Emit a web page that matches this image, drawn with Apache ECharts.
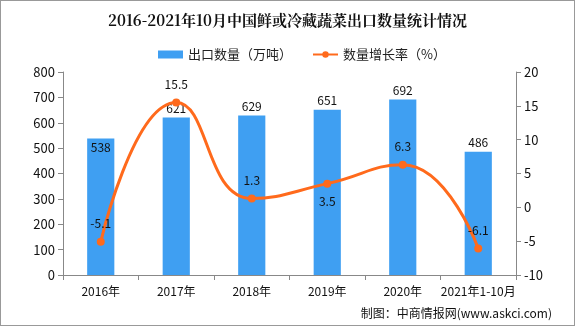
<!DOCTYPE html>
<html><head><meta charset="utf-8">
<script src="https://cdn.jsdelivr.net/npm/echarts@6/dist/echarts.min.js"></script>
<style>html,body{margin:0;padding:0;background:#fff}#c{width:575px;height:326px;box-sizing:border-box;border:1px solid #999}</style>
</head><body><div id="c"></div>
<script>
const categories = ['2016年','2017年','2018年','2019年','2020年','2021年1-10月'];
const exportVolume = [538, 621, 629, 651, 692, 486];
const growthRate = [-5.1, 15.5, 1.3, 3.5, 6.3, -6.1];
const leftTicks = [0, 800, 100];
const rightTicks = [-10, 20, 5];
const growthLabelPos = ['top','top','top','bottom','top','top'];
const barLabelPos = ['insideTop','top','top','top','top','top'];

const chart = echarts.init(document.getElementById('c'));
const font = '"Noto Sans CJK SC", sans-serif';
chart.setOption({
  animation: false,
  title: {text: '2016-2021年10月中国鲜或冷藏蔬菜出口数量统计情况', left: 'center', top: 7,
    textStyle: {fontSize: 15, fontWeight: 'bold', color: '#111', fontFamily: '"Noto Serif CJK SC","Noto Sans CJK SC",serif'}},
  legend: {top: 42, left: 152, itemGap: 20, itemWidth: 25, itemHeight: 8,
    textStyle: {fontSize: 13, color: '#222', fontFamily: font},
    data: [{name: '出口数量（万吨）', icon: 'rect'}, {name: '数量增长率（%）'}]},
  grid: {left: 62, right: 58, top: 71, bottom: 50, containLabel: false},
  xAxis: {type: 'category', data: categories,
    axisLine: {lineStyle: {color: '#888'}},
    axisTick: {show: true, alignWithLabel: false, lineStyle: {color: '#888'}},
    axisLabel: {color: '#111', fontSize: 12, margin: 10, interval: 0, fontFamily: font}},
  yAxis: [
    {type: 'value', min: leftTicks[0], max: leftTicks[1], interval: leftTicks[2],
     axisLine: {show: true, lineStyle: {color: '#888'}}, axisTick: {show: true, inside: false, lineStyle: {color: '#888'}},
     splitLine: {show: false}, axisLabel: {color: '#111', fontSize: 13, fontFamily: font}},
    {type: 'value', min: rightTicks[0], max: rightTicks[1], interval: rightTicks[2],
     axisLine: {show: true, lineStyle: {color: '#888'}}, axisTick: {show: true, lineStyle: {color: '#888'}},
     splitLine: {show: false}, axisLabel: {color: '#111', fontSize: 13, fontFamily: font}}
  ],
  graphic: [{type: 'text', right: 22, bottom: 6,
    style: {text: '制图：中商情报网(www.askci.com)', fontSize: 12, fill: '#111', fontFamily: font}}],
  series: [
    {name: '出口数量（万吨）', type: 'bar', barWidth: '36%', itemStyle: {color: '#3F9FF2'},
     data: exportVolume.map((v, i) => ({value: v, label: {position: barLabelPos[i]}})),
     label: {show: true, color: '#111', fontSize: 12, fontFamily: font, distance: 3}},
    {name: '数量增长率（%）', type: 'line', yAxisIndex: 1, smooth: true,
     symbol: 'circle', symbolSize: 8,
     lineStyle: {color: '#FF6A1C', width: 3}, itemStyle: {color: '#FF6A1C'},
     data: growthRate.map((v, i) => ({value: v, label: {position: growthLabelPos[i]}})),
     label: {show: true, color: '#111', fontSize: 12, fontFamily: font, distance: 8}}
  ]
});
</script></body></html>
